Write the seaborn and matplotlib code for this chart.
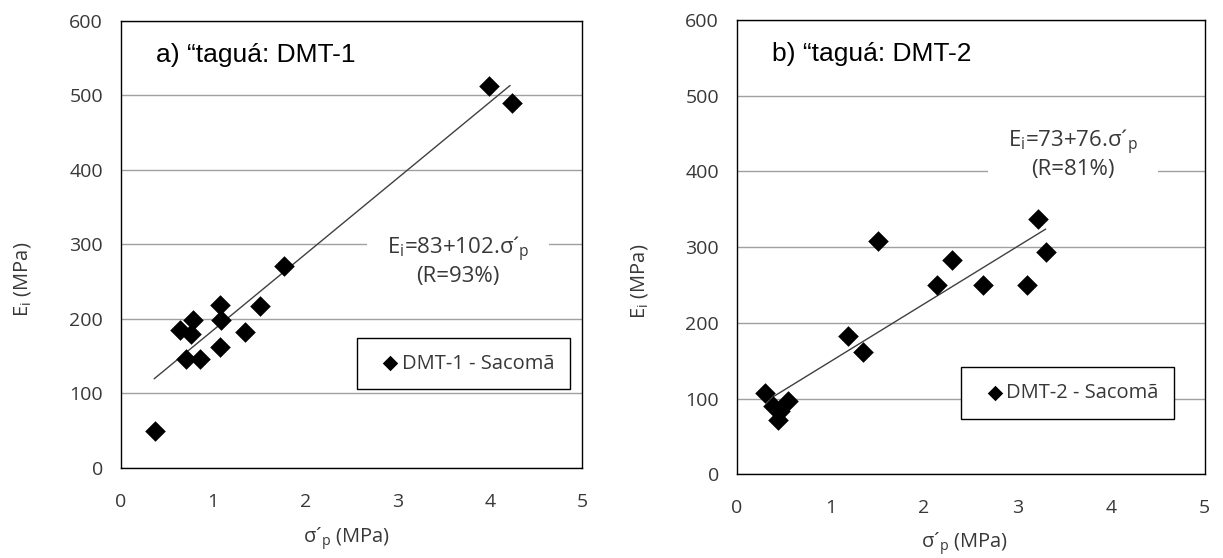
import numpy as np
import matplotlib.pyplot as plt
from matplotlib.ticker import MultipleLocator
import seaborn as sns

# a) DMT-1 data
sig_a = [0.37, 0.64, 0.70, 0.76, 0.78, 0.86, 1.07, 1.07, 1.09, 1.34, 1.51, 1.77, 3.99, 4.24]
ei_a = [50, 185, 146, 180, 199, 146, 163, 219, 198, 183, 217, 271, 513, 490]
fit_a = (83, 102)
fit_range_a = [0.36, 4.22]

# b) DMT-2 data
sig_b = [0.30, 0.38, 0.44, 0.46, 0.55, 1.19, 1.35, 1.51, 2.14, 2.30, 2.63, 3.10, 3.22, 3.30]
ei_b = [108, 90, 72, 84, 97, 182, 162, 308, 250, 283, 250, 250, 337, 293]
fit_b = (73, 76)
fit_range_b = [0.39, 3.30]

sns.set_style("white")
plt.rcParams["font.family"] = ["Open Sans", "DejaVu Sans"]
plt.rcParams["mathtext.fontset"] = "custom"
plt.rcParams["mathtext.rm"] = "Open Sans"
plt.rcParams["mathtext.it"] = "Open Sans:italic"

TXT = "#383838"


def draw_panel(ax, x, y, fit, fit_range, title, label, eq_pos, eq_text, leg_anchor, ylab_pos, xlab_pos):
    """One scatter panel with its linear fit, legend and equation."""
    sns.scatterplot(x=x, y=y, ax=ax, marker="D", color="black", s=110,
                    edgecolor="black", linewidth=0, label=label, zorder=3)
    xf = np.array(fit_range)
    sns.lineplot(x=xf, y=fit[0] + fit[1] * xf, ax=ax, color="#404040", lw=1, legend=False)

    ax.set_xlim(0, 5)
    ax.set_ylim(0, 600)
    ax.xaxis.set_major_locator(MultipleLocator(1))
    ax.xaxis.set_minor_locator(MultipleLocator(0.2))
    ax.yaxis.set_major_locator(MultipleLocator(100))
    ax.yaxis.set_minor_locator(MultipleLocator(20))
    ax.tick_params(which="major", direction="inout", length=10, width=1, color="black",
                   labelcolor=TXT, labelsize=14)
    ax.tick_params(axis="x", which="major", pad=13)
    ax.tick_params(axis="y", which="major", pad=8)
    ax.tick_params(which="minor", direction="in", length=5, width=1, color="black")
    for sp in ax.spines.values():
        sp.set_color("black")
        sp.set_linewidth(1)
    ax.yaxis.grid(True, color="#a0a0a0", lw=1)
    ax.set_axisbelow(True)

    ax.set_xlabel("σ´$_\\mathrm{p}$ (MPa)", fontsize=14.5, color=TXT)
    ax.set_ylabel("E$_\\mathrm{i}$ (MPa)", fontsize=14.5, color=TXT)
    ax.xaxis.set_label_coords(*xlab_pos)
    ax.yaxis.set_label_coords(*ylab_pos)

    ax.text(0.075, 0.925, title, transform=ax.transAxes, fontsize=19,
            family="Liberation Sans", color="black", va="center", ha="left")
    ax.text(eq_pos[0], eq_pos[1], eq_text, fontsize=16, color=TXT, ha="center", va="center",
            linespacing=1.15,
            bbox=dict(facecolor="white", edgecolor="none", boxstyle="square,pad=0.9"), zorder=2)

    leg = ax.legend(loc="upper left", bbox_to_anchor=leg_anchor, fontsize=14.5,
                    frameon=True, fancybox=False, edgecolor="black", framealpha=1,
                    markerscale=0.75, handletextpad=-0.3, borderpad=0.78, handlelength=1.75,
                    labelcolor=TXT, borderaxespad=0)
    leg.get_frame().set_linewidth(1)


fig = plt.figure(figsize=(12.23, 5.58), dpi=100)
ax1 = fig.add_axes([0.0989, 0.1613, 0.377, 0.8011])
ax2 = fig.add_axes([0.6026, 0.150, 0.3824, 0.8142])

draw_panel(ax1, sig_a, ei_a, fit_a, fit_range_a, "a) \u201ctaguá: DMT-1", "DMT-1 - Sacomã",
           (3.655, 278), "E$_\\mathrm{i}$=83+102.σ´$_\\mathrm{p}$\n(R=93%)",
           (0.512, 0.291), (-0.191, 0.423), (0.49, -0.128))
draw_panel(ax2, sig_b, ei_b, fit_b, fit_range_b, "b) \u201ctaguá: DMT-2", "DMT-2 - Sacomã",
           (3.59, 423), "E$_\\mathrm{i}$=73+76.σ´$_\\mathrm{p}$\n(R=81%)",
           (0.480, 0.2355), (-0.186, 0.4255), (0.486, -0.122))

fig.savefig("out.png", dpi=100, facecolor="white")
